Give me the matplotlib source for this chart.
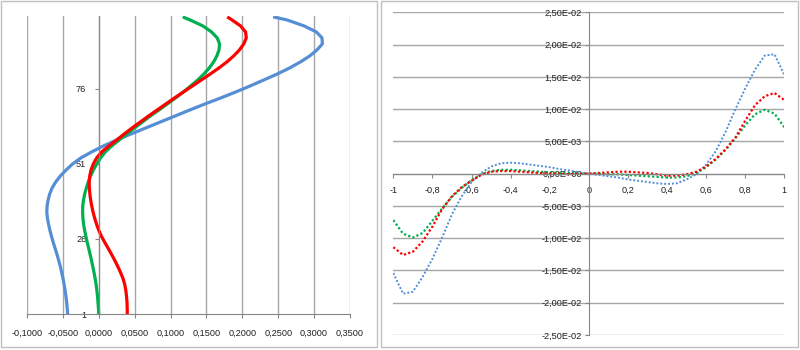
import matplotlib
matplotlib.use('Agg')
import matplotlib.pyplot as plt
from matplotlib.patches import Rectangle
from matplotlib.ticker import FixedLocator, FuncFormatter

plt.rcParams['font.family'] = ['Liberation Sans', 'DejaVu Sans']

W, H = 800, 350

# --- left chart: profiles vs row index ---
rows = list(range(1, 100, 2)) + [100]
left_blue = [-0.0433, -0.0440, -0.0448, -0.0458, -0.0470, -0.0484, -0.0500, -0.0518,
             -0.0538, -0.0560, -0.0584, -0.0610, -0.0636, -0.0660, -0.0682, -0.0700,
             -0.0716, -0.0724, -0.0720, -0.0706, -0.0684, -0.0650, -0.0600, -0.0535,
             -0.0455, -0.0365, -0.0250, -0.0100, 0.0065, 0.0250, 0.0450, 0.0655,
             0.0860, 0.1065, 0.1270, 0.1480, 0.1700, 0.1910, 0.2110, 0.2300,
             0.2490, 0.2660, 0.2810, 0.2940, 0.3040, 0.3115, 0.3110, 0.3030,
             0.2860, 0.2620, 0.2430]
left_green = [0.0000, -0.0005, -0.0011, -0.0018, -0.0027, -0.0038, -0.0052, -0.0068,
              -0.0085, -0.0103, -0.0122, -0.0142, -0.0162, -0.0181, -0.0198, -0.0212,
              -0.0221, -0.0225, -0.0223, -0.0213, -0.0196, -0.0173, -0.0147, -0.0115,
              -0.0075, -0.0028, 0.0025, 0.0090, 0.0180, 0.0285, 0.0390, 0.0500,
              0.0610, 0.0720, 0.0840, 0.0955, 0.1070, 0.1180, 0.1280, 0.1380,
              0.1465, 0.1540, 0.1600, 0.1645, 0.1675, 0.1683, 0.1650, 0.1570,
              0.1450, 0.1270, 0.1170]
left_red = [0.0397, 0.0396, 0.0393, 0.0386, 0.0376, 0.0360, 0.0335, 0.0300,
            0.0262, 0.0220, 0.0175, 0.0128, 0.0080, 0.0035, -0.0002, -0.0032,
            -0.0058, -0.0080, -0.0098, -0.0113, -0.0124, -0.0131, -0.0133, -0.0126,
            -0.0108, -0.0076, -0.0030, 0.0040, 0.0140, 0.0250, 0.0355, 0.0465,
            0.0580, 0.0695, 0.0815, 0.0935, 0.1055, 0.1180, 0.1305, 0.1430,
            0.1555, 0.1675, 0.1785, 0.1880, 0.1960, 0.2020, 0.2055, 0.2045,
            0.1975, 0.1855, 0.1790]
left_xticks = [-0.10, -0.05, 0.0, 0.05, 0.10, 0.15, 0.20, 0.25, 0.30, 0.35]
left_yticks = [1, 26, 51, 76]

# --- right chart: curves on [-1, 1] ---
xs = [-1.0, -0.95, -0.9, -0.85, -0.8, -0.75, -0.7, -0.65, -0.6, -0.55, -0.5,
      -0.45, -0.4, -0.35, -0.3, -0.25, -0.2, -0.15, -0.1, -0.05, 0.0,
      0.05, 0.1, 0.15, 0.2, 0.25, 0.3, 0.35, 0.4, 0.45, 0.5,
      0.55, 0.6, 0.65, 0.7, 0.75, 0.8, 0.85, 0.9, 0.95, 1.0]
right_blue = [-0.0154, -0.0186, -0.0183, -0.0160, -0.0132, -0.0099, -0.0063, -0.0035,
              -0.0013, 0.0001, 0.0011, 0.0016, 0.0017, 0.0016, 0.0014, 0.0012,
              0.0010, 0.0007, 0.0005, 0.0002, 0.0000,
              -0.0002, -0.0004, -0.0006, -0.0009, -0.0011, -0.0013, -0.0015,
              -0.0016, -0.0015, -0.0009, -0.0001, 0.0014, 0.0035, 0.0065,
              0.0100, 0.0132, 0.0161, 0.0183, 0.0185, 0.0153]
right_red = [-0.0114, -0.0126, -0.0121, -0.0105, -0.0082, -0.0055, -0.0035, -0.0021,
             -0.0011, -0.0002, 0.0003, 0.0004, 0.0004, 0.0003, 0.0002, 0.0001,
             0.0000, 0.0000, -0.0001, 0.0000, 0.0000,
             0.0001, 0.0002, 0.0003, 0.0003, 0.0002, 0.0001, -0.0001,
             -0.0003, -0.0003, -0.0001, 0.0003, 0.0011, 0.0023, 0.0038,
             0.0056, 0.0082, 0.0106, 0.0120, 0.0125, 0.0114]
right_green = [-0.0072, -0.0093, -0.0099, -0.0092, -0.0073, -0.0054, -0.0036, -0.0022,
               -0.0010, -0.0001, 0.0004, 0.0006, 0.0006, 0.0005, 0.0004, 0.0003,
               0.0002, 0.0001, 0.0001, 0.0000, 0.0000,
               0.0000, -0.0001, -0.0001, -0.0002, -0.0003, -0.0004, -0.0005,
               -0.0006, -0.0006, -0.0004, 0.0001, 0.0010, 0.0022, 0.0037,
               0.0055, 0.0075, 0.0092, 0.0099, 0.0093, 0.0072]
right_xticks = [-1.0, -0.8, -0.6, -0.4, -0.2, 0.0, 0.2, 0.4, 0.6, 0.8, 1.0]
right_yticks = [-0.025, -0.02, -0.015, -0.01, -0.005, 0.0, 0.005, 0.01, 0.015, 0.02, 0.025]

BLUE = '#558ed5'
GREEN = '#00b050'
RED = '#ff0000'
GRID = '#a6a6a6'
AXIS = '#868686'
TXT = '#202020'
FS = 6.6

fig = plt.figure(figsize=(W / 100, H / 100), dpi=100)


def px_axes(x0, y0, x1, y1):
    # pixel box (top-left origin) -> figure axes
    return fig.add_axes([x0 / W, 1 - y1 / H, (x1 - x0) / W, (y1 - y0) / H])


# panel frames
for (x0, y0, x1, y1) in [(0.5, 0.5, 377, 347), (381, 1, 798.5, 347)]:
    fig.patches.append(Rectangle((x0 / W, 1 - y1 / H), (x1 - x0) / W, (y1 - y0) / H,
                                 transform=fig.transFigure, fill=False,
                                 edgecolor='#c0c0c0', lw=1))

# ---- left ----
ax = px_axes(27, 16, 350, 314)
for vals, col in [(left_blue, BLUE), (left_green, GREEN), (left_red, RED)]:
    ax.plot(vals, rows, color=col, lw=2.3, solid_capstyle='butt', solid_joinstyle='round')
ax.set_xlim(-0.1, 0.35)
ax.set_ylim(1, 100.3)
ax.xaxis.set_major_locator(FixedLocator(left_xticks))
ax.xaxis.set_major_formatter(FuncFormatter(lambda v, p: f"{v:.4f}".replace('.', ',')))
ax.yaxis.set_major_locator(FixedLocator(left_yticks))
ax.grid(axis='x', color=GRID, lw=1)
ax.set_axisbelow(True)
for s in ['top', 'right']:
    ax.spines[s].set_visible(False)
ax.spines['left'].set_position(('data', 0))
ax.spines['left'].set_color(AXIS)
ax.spines['bottom'].set_color(AXIS)
ax.tick_params(axis='x', length=3, color=AXIS, labelsize=FS, labelcolor=TXT, pad=8)
ax.tick_params(axis='y', length=3, color=AXIS, labelsize=FS, labelcolor=TXT, pad=6)
ax.patch.set_alpha(0)

# ---- right ----
bx = px_axes(393.3, 12.3, 784.3, 335)
dots = (0, (1, 1))
bx.plot(xs, right_blue, color=BLUE, lw=1.4, ls=dots)
bx.plot(xs, right_green, color=GREEN, lw=1.6, ls=dots)
bx.plot(xs, right_red, color=RED, lw=1.6, ls=dots)
bx.set_xlim(-1, 1)
bx.set_ylim(-0.025, 0.025)
bx.xaxis.set_major_locator(FixedLocator(right_xticks))
bx.xaxis.set_major_formatter(FuncFormatter(lambda v, p: f"{v:g}".replace('.', ',')))
bx.yaxis.set_major_locator(FixedLocator(right_yticks))
bx.yaxis.set_major_formatter(FuncFormatter(lambda v, p: f"{v:.2E}".replace('.', ',')))
bx.grid(axis='y', color=GRID, lw=1)
bx.set_axisbelow(True)
for s in ['top', 'right']:
    bx.spines[s].set_visible(False)
bx.spines['left'].set_position(('data', 0))
bx.spines['bottom'].set_position(('data', 0))
bx.spines['left'].set_color(AXIS)
bx.spines['bottom'].set_color(AXIS)
bx.tick_params(axis='x', length=3, color=AXIS, labelsize=FS, labelcolor=TXT, pad=6)
bx.tick_params(axis='y', length=3, color=AXIS, labelsize=FS, labelcolor=TXT, pad=2)
bx.patch.set_alpha(0)

fig.savefig('out.png', dpi=100)
